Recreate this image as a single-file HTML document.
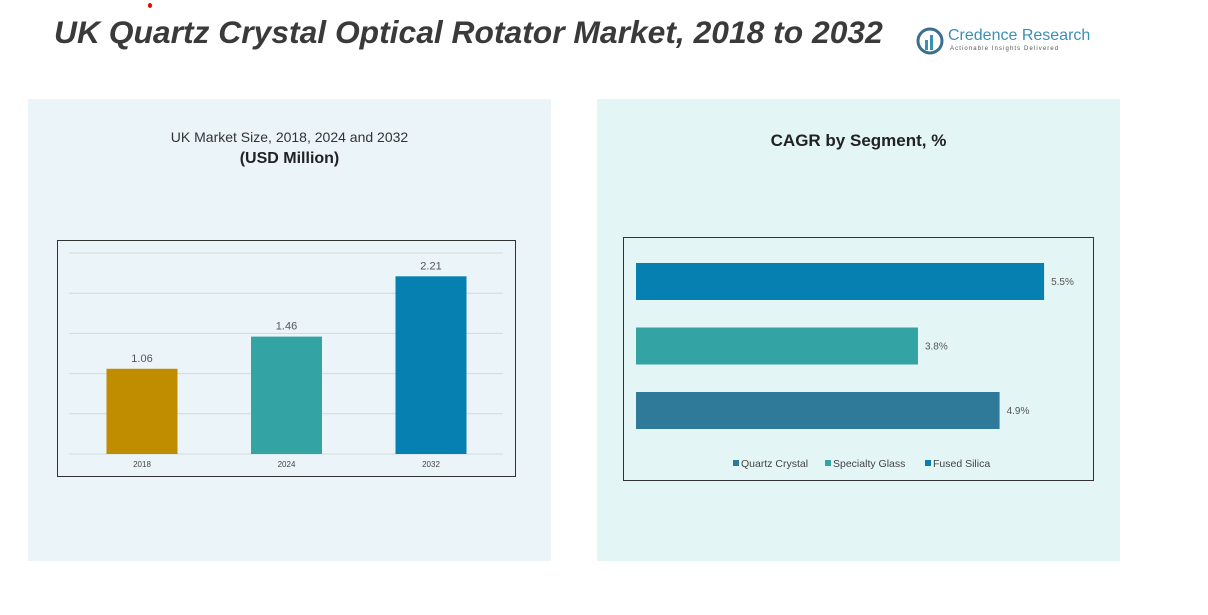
<!DOCTYPE html>
<html><head><meta charset="utf-8">
<style>
body{margin:0;width:1208px;height:615px;background:#fff;overflow:hidden;font-family:"Liberation Sans",sans-serif;position:relative}
.abs{position:absolute}
</style></head><body>
<div class="abs" style="left:148px;top:3px;width:4px;height:5px;border-radius:50%;background:#e00"></div>
<div class="abs" style="left:54px;top:14px;font-size:31.8px;font-weight:bold;font-style:italic;color:#3a3a3a;white-space:nowrap">UK Quartz Crystal Optical Rotator Market, 2018 to 2032</div>
<div class="abs" style="left:916px;top:26px;width:178px;height:30px">
 <svg width="28" height="28" style="position:absolute;left:0;top:1px"><circle cx="14" cy="14" r="12" fill="none" stroke="#3a6f8f" stroke-width="3"/><rect x="9" y="13" width="3" height="10" fill="#3a8fb7"/><rect x="14" y="8" width="3" height="15" fill="#3a8fb7"/></svg>
 <div class="abs" style="left:32px;top:1px;font-size:16px;color:#3a8fb7;white-space:nowrap">Credence Research</div>
 <div class="abs" style="left:34px;top:20px;font-size:6px;letter-spacing:1.1px;color:#555;white-space:nowrap">Actionable Insights Delivered</div>
</div>
<div class="abs" style="left:28px;top:99px;width:523px;height:462px;background:#ebf4f9"></div>
<div class="abs" style="left:597px;top:99px;width:523px;height:462px;background:#e4f5f5"></div>
<div class="abs" style="left:28px;top:129px;width:523px;text-align:center;font-size:14px;color:#333">UK Market Size, 2018, 2024 and 2032</div>
<div class="abs" style="left:28px;top:150px;width:523px;text-align:center;font-size:16px;font-weight:bold;color:#222">(USD Million)</div>
<div class="abs" style="left:597px;top:131px;width:523px;text-align:center;font-size:17px;font-weight:bold;color:#222">CAGR by Segment, %</div>
<svg class="abs" style="left:0;top:0" width="1208" height="615" id="svg"></svg>
<script>
const years=["2018","2024","2032"];
const marketValues=[1.06,1.46,2.21];
const barColors=["#c08d00","#33a3a3","#0680b0"];
const gridTicks=[0,0.5,1,1.5,2,2.5];
const segments=["Fused Silica","Specialty Glass","Quartz Crystal"];
const cagrValues=[5.5,3.8,4.9];
const segColors=["#0680b0","#33a3a3","#307a99"];
const legendNames=["Quartz Crystal","Specialty Glass","Fused Silica"];
const legendColors=["#307a99","#33a3a3","#0680b0"];
const svg=document.getElementById('svg');
const NS="http://www.w3.org/2000/svg";
function mk(t,a){const e=document.createElementNS(NS,t);for(const k in a)e.setAttribute(k,a[k]);svg.appendChild(e);return e;}
let f=mk('rect',{x:57.5,y:240.5,width:458,height:236,fill:'none',stroke:'#333','stroke-width':1});


const y=v=>454-v*80.4;
gridTicks.forEach(t=>{const l=mk('line',{x1:69,x2:503,y1:y(t),y2:y(t),stroke:'#cfdcd8','stroke-width':1});

});
years.forEach((yr,i)=>{const cx=142+i*144.5;
const r=mk('rect',{x:cx-35.5,y:y(marketValues[i]),width:71,height:marketValues[i]*80.4,fill:barColors[i]});


const t=mk('text',{x:cx,y:y(marketValues[i])-7,'text-anchor':'middle','font-size':11,fill:'#555'});t.textContent=marketValues[i].toFixed(2);


const c=mk('text',{x:cx,y:467,'text-anchor':'middle','font-size':8,fill:'#444'});c.textContent=yr;

});
let f2=mk('rect',{x:623.5,y:237.5,width:470,height:243,fill:'none',stroke:'#333','stroke-width':1});


const xs=v=>v*74.2;
segments.forEach((s,i)=>{const top=263+i*64.5;
const r=mk('rect',{x:636,y:top,width:xs(cagrValues[i]),height:37,fill:segColors[i]});


const t=mk('text',{x:636+xs(cagrValues[i])+7,y:top+22,'font-size':10,fill:'#555'});t.textContent=cagrValues[i]+'%';

});
let lx=733;
legendNames.forEach((n,i)=>{const sq=mk('rect',{x:lx,y:460,width:6,height:6,fill:legendColors[i]});


const t=mk('text',{x:lx+8,y:467,'font-size':10.5,fill:'#444'});t.textContent=n;


lx+=[92,100,0][i];});
</script>
</body></html>
